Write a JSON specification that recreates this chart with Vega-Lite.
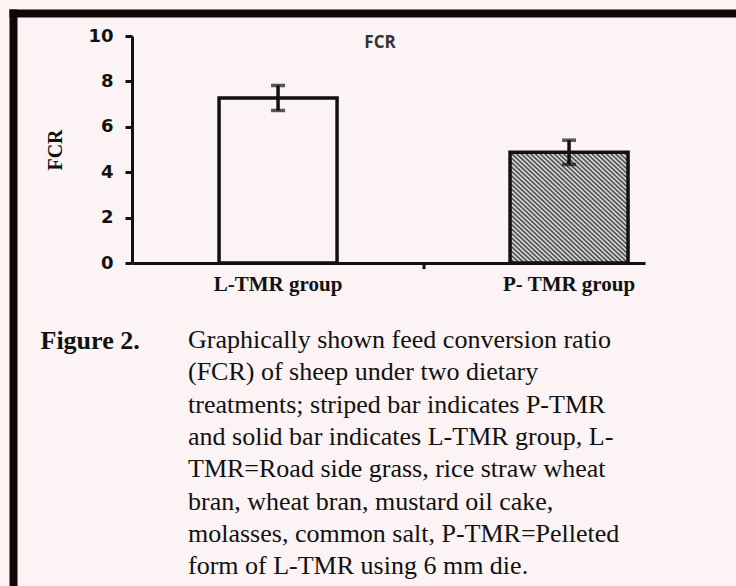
{
  "$schema": "https://vega.github.io/schema/vega-lite/v6.json",
  "autosize": "none",
  "width": 513,
  "height": 227,
  "padding": {"left": 132, "top": 36, "right": 91, "bottom": 323},
  "background": "#fbf3f4",
  "config": {"view": {"stroke": null}},
  "title": {
    "text": [
      "Graphically shown feed conversion ratio",
      "(FCR) of sheep under two dietary",
      "treatments; striped bar indicates P-TMR",
      "and solid bar indicates L-TMR group, L-",
      "TMR=Road side grass, rice straw wheat",
      "bran, wheat bran, mustard oil cake,",
      "molasses, common salt, P-TMR=Pelleted",
      "form of L-TMR using 6 mm die."
    ],
    "orient": "bottom",
    "anchor": "start",
    "frame": "group",
    "dx": 56,
    "offset": -265,
    "baseline": "alphabetic",
    "font": "Liberation Serif",
    "fontSize": 26,
    "fontWeight": "normal",
    "color": "#111111",
    "lineHeight": 32.3
  },
  "layer": [
    {
      "data": {"values": [
        {"group": "L-TMR group", "fcr": 7.27, "lo": 6.72, "hi": 7.82},
        {"group": "P- TMR group", "fcr": 4.88, "lo": 4.34, "hi": 5.41}
      ]},
      "layer": [
        {
          "transform": [{"filter": "datum.group === 'L-TMR group'"}],
          "mark": {"type": "bar", "fillOpacity": 0, "stroke": "#111111", "strokeWidth": 3.5},
          "encoding": {
            "x": {"field": "group", "type": "nominal", "sort": null,
              "scale": {"type": "band", "domain": ["L-TMR group", "P- TMR group"], "paddingInner": 0.5945, "paddingOuter": 0.1787, "align": 0.837},
              "axis": {"title": "Figure 2.", "titleX": -92, "titleY": 85, "titleAlign": "left", "titleAnchor": "start", "titleBaseline": "alphabetic", "titleFont": "Liberation Serif", "titleFontSize": 26, "titleFontWeight": "bold", "titleColor": "#111111", "labelAngle": 0, "labelFont": "Liberation Serif", "labelFontWeight": "bold", "labelFontSize": 21, "labelColor": "#111111", "labelPadding": 10, "ticks": false, "tickSize": 0, "domainColor": "#111111", "domainWidth": 3, "grid": false}},
            "y": {"field": "fcr", "type": "quantitative",
              "scale": {"domain": [0, 10], "nice": false},
              "axis": {"title": "FCR", "values": [0, 2, 4, 6, 8, 10], "grid": false, "domainColor": "#111111", "domainWidth": 3, "tickColor": "#111111", "tickWidth": 3, "tickSize": 7, "labelFont": "DejaVu Sans", "labelFontWeight": "bold", "labelFontSize": 18, "labelColor": "#111111", "labelPadding": 12, "titleFont": "Liberation Serif", "titleFontSize": 20, "titleFontWeight": "bold", "titleColor": "#111111", "titlePadding": 22}}
          }
        },
        {
          "transform": [{"filter": "datum.group === 'P- TMR group'"}],
          "mark": {"type": "bar", "stroke": "#111111", "strokeWidth": 3.5,
            "fill": {"gradient": "linear", "x1": 0, "y1": 1, "x2": 1, "y2": 0, "stops": [
              {"offset": 0.00, "color": "#3a3a3a"}, {"offset": 0.01, "color": "#eeeeee"},
              {"offset": 0.02, "color": "#3a3a3a"}, {"offset": 0.03, "color": "#eeeeee"},
              {"offset": 0.04, "color": "#3a3a3a"}, {"offset": 0.05, "color": "#eeeeee"},
              {"offset": 0.06, "color": "#3a3a3a"}, {"offset": 0.07, "color": "#eeeeee"},
              {"offset": 0.08, "color": "#3a3a3a"}, {"offset": 0.09, "color": "#eeeeee"},
              {"offset": 0.10, "color": "#3a3a3a"}, {"offset": 0.11, "color": "#eeeeee"},
              {"offset": 0.12, "color": "#3a3a3a"}, {"offset": 0.13, "color": "#eeeeee"},
              {"offset": 0.14, "color": "#3a3a3a"}, {"offset": 0.15, "color": "#eeeeee"},
              {"offset": 0.16, "color": "#3a3a3a"}, {"offset": 0.17, "color": "#eeeeee"},
              {"offset": 0.18, "color": "#3a3a3a"}, {"offset": 0.19, "color": "#eeeeee"},
              {"offset": 0.20, "color": "#3a3a3a"}, {"offset": 0.21, "color": "#eeeeee"},
              {"offset": 0.22, "color": "#3a3a3a"}, {"offset": 0.23, "color": "#eeeeee"},
              {"offset": 0.24, "color": "#3a3a3a"}, {"offset": 0.25, "color": "#eeeeee"},
              {"offset": 0.26, "color": "#3a3a3a"}, {"offset": 0.27, "color": "#eeeeee"},
              {"offset": 0.28, "color": "#3a3a3a"}, {"offset": 0.29, "color": "#eeeeee"},
              {"offset": 0.30, "color": "#3a3a3a"}, {"offset": 0.31, "color": "#eeeeee"},
              {"offset": 0.32, "color": "#3a3a3a"}, {"offset": 0.33, "color": "#eeeeee"},
              {"offset": 0.34, "color": "#3a3a3a"}, {"offset": 0.35, "color": "#eeeeee"},
              {"offset": 0.36, "color": "#3a3a3a"}, {"offset": 0.37, "color": "#eeeeee"},
              {"offset": 0.38, "color": "#3a3a3a"}, {"offset": 0.39, "color": "#eeeeee"},
              {"offset": 0.40, "color": "#3a3a3a"}, {"offset": 0.41, "color": "#eeeeee"},
              {"offset": 0.42, "color": "#3a3a3a"}, {"offset": 0.43, "color": "#eeeeee"},
              {"offset": 0.44, "color": "#3a3a3a"}, {"offset": 0.45, "color": "#eeeeee"},
              {"offset": 0.46, "color": "#3a3a3a"}, {"offset": 0.47, "color": "#eeeeee"},
              {"offset": 0.48, "color": "#3a3a3a"}, {"offset": 0.49, "color": "#eeeeee"},
              {"offset": 0.50, "color": "#3a3a3a"}, {"offset": 0.51, "color": "#eeeeee"},
              {"offset": 0.52, "color": "#3a3a3a"}, {"offset": 0.53, "color": "#eeeeee"},
              {"offset": 0.54, "color": "#3a3a3a"}, {"offset": 0.55, "color": "#eeeeee"},
              {"offset": 0.56, "color": "#3a3a3a"}, {"offset": 0.57, "color": "#eeeeee"},
              {"offset": 0.58, "color": "#3a3a3a"}, {"offset": 0.59, "color": "#eeeeee"},
              {"offset": 0.60, "color": "#3a3a3a"}, {"offset": 0.61, "color": "#eeeeee"},
              {"offset": 0.62, "color": "#3a3a3a"}, {"offset": 0.63, "color": "#eeeeee"},
              {"offset": 0.64, "color": "#3a3a3a"}, {"offset": 0.65, "color": "#eeeeee"},
              {"offset": 0.66, "color": "#3a3a3a"}, {"offset": 0.67, "color": "#eeeeee"},
              {"offset": 0.68, "color": "#3a3a3a"}, {"offset": 0.69, "color": "#eeeeee"},
              {"offset": 0.70, "color": "#3a3a3a"}, {"offset": 0.71, "color": "#eeeeee"},
              {"offset": 0.72, "color": "#3a3a3a"}, {"offset": 0.73, "color": "#eeeeee"},
              {"offset": 0.74, "color": "#3a3a3a"}, {"offset": 0.75, "color": "#eeeeee"},
              {"offset": 0.76, "color": "#3a3a3a"}, {"offset": 0.77, "color": "#eeeeee"},
              {"offset": 0.78, "color": "#3a3a3a"}, {"offset": 0.79, "color": "#eeeeee"},
              {"offset": 0.80, "color": "#3a3a3a"}, {"offset": 0.81, "color": "#eeeeee"},
              {"offset": 0.82, "color": "#3a3a3a"}, {"offset": 0.83, "color": "#eeeeee"},
              {"offset": 0.84, "color": "#3a3a3a"}, {"offset": 0.85, "color": "#eeeeee"},
              {"offset": 0.86, "color": "#3a3a3a"}, {"offset": 0.87, "color": "#eeeeee"},
              {"offset": 0.88, "color": "#3a3a3a"}, {"offset": 0.89, "color": "#eeeeee"},
              {"offset": 0.90, "color": "#3a3a3a"}, {"offset": 0.91, "color": "#eeeeee"},
              {"offset": 0.92, "color": "#3a3a3a"}, {"offset": 0.93, "color": "#eeeeee"},
              {"offset": 0.94, "color": "#3a3a3a"}, {"offset": 0.95, "color": "#eeeeee"},
              {"offset": 0.96, "color": "#3a3a3a"}, {"offset": 0.97, "color": "#eeeeee"},
              {"offset": 0.98, "color": "#3a3a3a"}, {"offset": 0.99, "color": "#eeeeee"},
              {"offset": 1.00, "color": "#3a3a3a"}
            ]}},
          "encoding": {
            "x": {"field": "group", "type": "nominal", "sort": null},
            "y": {"field": "fcr", "type": "quantitative"}
          }
        },
        {
          "mark": {"type": "rule", "color": "#111111", "strokeWidth": 3.5},
          "encoding": {
            "x": {"field": "group", "type": "nominal", "sort": null},
            "y": {"field": "lo", "type": "quantitative"},
            "y2": {"field": "hi"}
          }
        },
        {
          "mark": {"type": "tick", "color": "#111111", "size": 14, "thickness": 3.5},
          "encoding": {
            "x": {"field": "group", "type": "nominal", "sort": null},
            "y": {"field": "lo", "type": "quantitative"}
          }
        },
        {
          "mark": {"type": "tick", "color": "#111111", "size": 14, "thickness": 3.5},
          "encoding": {
            "x": {"field": "group", "type": "nominal", "sort": null},
            "y": {"field": "hi", "type": "quantitative"}
          }
        },
        {
          "data": {"values": [{"label": "FCR"}]},
          "mark": {"type": "text", "font": "Open Sans", "fontSize": 17, "fontWeight": "bold", "color": "#333333", "baseline": "middle", "align": "center"},
          "encoding": {
            "x": {"datum": "L-TMR group", "type": "nominal", "bandPosition": 1.364},
            "y": {"datum": 9.71, "type": "quantitative"},
            "text": {"field": "label"}
          }
        },
        {
          "data": {"values": [{"label": "mid"}]},
          "mark": {"type": "rule", "color": "#111111", "strokeWidth": 3},
          "encoding": {
            "x": {"datum": "L-TMR group", "type": "nominal", "bandPosition": 1.737},
            "y": {"datum": 0, "type": "quantitative"},
            "y2": {"datum": -0.27}
          }
        }
      ]
    },
    {
      "data": {"values": []},
      "mark": {"type": "point", "opacity": 0},
      "encoding": {
        "x": {"field": "fx", "type": "quantitative",
          "scale": {"domain": [0, 1], "range": [-123, 604], "nice": false, "zero": false},
          "axis": {"orient": "top", "offset": 23, "domainWidth": 8, "domainColor": "#120606", "ticks": false, "labels": false, "title": null, "grid": false}},
        "y": {"field": "fy", "type": "quantitative",
          "scale": {"domain": [0, 1], "range": [550, -27], "nice": false, "zero": false},
          "axis": {"orient": "left", "offset": 119, "domainWidth": 8, "domainColor": "#120606", "ticks": false, "labels": false, "title": null, "grid": false}}
      }
    }
  ],
  "resolve": {
    "scale": {"x": "independent", "y": "independent"},
    "axis": {"x": "independent", "y": "independent"}
  }
}
